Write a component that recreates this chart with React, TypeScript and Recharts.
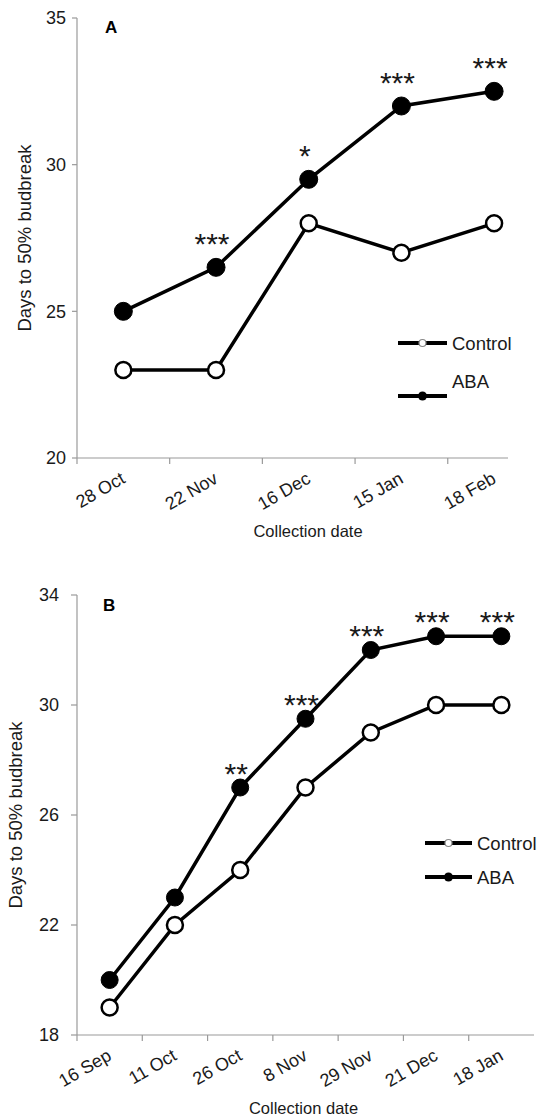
import React from 'react';
import { LineChart, Line, XAxis, YAxis, LabelList, Legend, Customized } from 'recharts';

// ---------- Panel A ----------
const datesA = ['28 Oct', '22 Nov', '16 Dec', '15 Jan', '18 Feb'];
const controlA = [23, 23, 28, 27, 28];
const abaA = [25, 26.5, 29.5, 32, 32.5];
const sigA = ['', '***', '*', '***', '***'];
const yTicksA = [20, 25, 30, 35];

// ---------- Panel B ----------
const datesB = ['16 Sep', '11 Oct', '26 Oct', '8 Nov', '29 Nov', '21 Dec', '18 Jan'];
const controlB = [19, 22, 24, 27, 29, 30, 30];
const abaB = [20, 23, 27, 29.5, 32, 32.5, 32.5];
const sigB = ['', '', '**', '***', '***', '***', '***'];
const yTicksB = [18, 22, 26, 30, 34];

const seriesNames = ['Control', 'ABA'];
const yTitle = 'Days to 50% budbreak';
const xTitle = 'Collection date';

const FONT = '"Liberation Sans", Arial, Helvetica, sans-serif';
const AXIS = '#9a9a9a';
const TEXT = '#1a1a1a';

const buildRows = (dates: string[], control: number[], aba: number[], sig: string[]) =>
  dates.map((d, i) => ({ x: i + 0.5, date: d, control: control[i], aba: aba[i], sig: sig[i] }));

const buildTicks = (dates: string[]) => dates.flatMap((_, i) => [i, i + 0.5]);

const rowsA = buildRows(datesA, controlA, abaA, sigA);
const rowsB = buildRows(datesB, controlB, abaB, sigB);

function makeXTick(labels: string[]) {
  return function XTick(props: any) {
    const { x, y, payload } = props;
    const v = payload.value as number;
    if (Number.isInteger(v)) {
      return <line x1={x} y1={y - 6} x2={x} y2={y} stroke={AXIS} strokeWidth={1.2} />;
    }
    const label = labels[Math.floor(v)];
    return (
      <text
        x={0}
        y={0}
        transform={`translate(${x + 3},${y + 18}) rotate(-30)`}
        textAnchor="end"
        fontSize={18}
        fill={TEXT}
        fontFamily={FONT}
      >
        {label}
      </text>
    );
  };
}

function makeStars(lift: number) {
  return function Stars(props: any) {
    const vb = props.viewBox || {};
    const x = vb.x ?? props.x;
    const y = vb.y ?? props.y;
    const value = props.value;
    if (!value) return null;
    return (
      <text x={x - 4} y={y - lift} textAnchor="middle" fontSize={30} fill={TEXT} fontFamily={FONT}>
        {value}
      </text>
    );
  };
}

function makeYTitle(cx: number) {
  return function YTitle(props: any) {
    const vb = props.viewBox || { x: 0, y: 0, width: 0, height: 0 };
    return (
      <text
        x={0}
        y={0}
        transform={`translate(${cx},${vb.y + vb.height / 2}) rotate(-90)`}
        textAnchor="middle"
        dominantBaseline="central"
        fontSize={18.5}
        fill={TEXT}
        fontFamily={FONT}
      >
        {yTitle}
      </text>
    );
  };
}

function makeXTitle(dx: number, dy: number) {
  return function XTitle(props: any) {
    const vb = props.viewBox || { x: 0, y: 0, width: 0, height: 0 };
    return (
      <text
        x={vb.x + vb.width / 2 + dx}
        y={vb.y + dy}
        textAnchor="middle"
        dominantBaseline="central"
        fontSize={16.5}
        fill={TEXT}
        fontFamily={FONT}
      >
        {xTitle}
      </text>
    );
  };
}

type LegendRow = { lineY: number; textY: number; filled: boolean };
function makeLegend(rows: LegendRow[], x0: number, x1: number, tx: number, w: number, h: number) {
  return function LegendContent() {
    return (
      <svg width={w} height={h} style={{ display: 'block', overflow: 'visible' }}>
        {rows.map((r, i) => (
          <g key={i}>
            <line x1={x0} y1={r.lineY} x2={x1} y2={r.lineY} stroke="#000" strokeWidth={4} />
            {r.filled ? (
              <circle cx={(x0 + x1) / 2} cy={r.lineY} r={4.5} fill="#000" />
            ) : (
              <circle cx={(x0 + x1) / 2} cy={r.lineY} r={3.5} fill="#fff" stroke="#888" strokeWidth={1.2} />
            )}
            <text x={tx} y={r.textY} dominantBaseline="central" fontSize={18.5} fill={TEXT} fontFamily={FONT}>
              {seriesNames[i]}
            </text>
          </g>
        ))}
      </svg>
    );
  };
}

function PanelLetter({ x, y, text }: { x: number; y: number; text: string }) {
  return (
    <text x={x} y={y} fontSize={17} fontWeight="bold" fill="#000" fontFamily={FONT}>
      {text}
    </text>
  );
}

export default function App() {
  return (
    <div style={{ position: 'absolute', left: 0, top: 0, width: 538, height: 1119, background: '#fff', fontFamily: FONT }}>
      {/* Panel A */}
      <LineChart
        width={538}
        height={560}
        data={rowsA}
        margin={{ top: 18, right: 30, left: 0, bottom: 0 }}
        style={{ fontFamily: FONT }}
      >
        <XAxis
          dataKey="x"
          type="number"
          domain={[0, 4.65]}
          ticks={buildTicks(datesA)}
          interval={0}
          height={102}
          tickSize={6}
          tickMargin={0}
          tickLine={false}
          axisLine={{ stroke: AXIS, strokeWidth: 1.2 }}
          tick={makeXTick(datesA)}
          label={{ value: xTitle, content: makeXTitle(15.5, 73) }}
        />
        <YAxis
          type="number"
          domain={[20, 35]}
          ticks={yTicksA}
          width={77}
          tickSize={5}
          tickMargin={6}
          axisLine={{ stroke: AXIS, strokeWidth: 1.2 }}
          tickLine={{ stroke: AXIS, strokeWidth: 1.2 }}
          tick={{ fontSize: 18, fill: TEXT, fontFamily: FONT }}
          label={{ value: yTitle, content: makeYTitle(24) }}
        />
        <Line
          name={seriesNames[0]}
          dataKey="control"
          type="linear"
          stroke="#000"
          strokeWidth={3.5}
          dot={{ r: 8, fill: '#fff', stroke: '#000', strokeWidth: 2.5 }}
          isAnimationActive={false}
        />
        <Line
          name={seriesNames[1]}
          dataKey="aba"
          type="linear"
          stroke="#000"
          strokeWidth={3.5}
          dot={{ r: 9, fill: '#000', stroke: '#000', strokeWidth: 1 }}
          isAnimationActive={false}
        >
          <LabelList dataKey="sig" content={makeStars(13)} />
        </Line>
        <Legend
          layout="horizontal"
          verticalAlign="middle"
          align="center"
          wrapperStyle={{ position: 'absolute', left: 390, top: 320, width: 148, height: 90 }}
          content={makeLegend(
            [
              { lineY: 23, textY: 23, filled: false },
              { lineY: 76, textY: 61, filled: true },
            ],
            8,
            57,
            62,
            148,
            90
          )}
        />
        <Customized component={() => <PanelLetter x={105} y={33} text="A" />} />
      </LineChart>

      {/* Panel B */}
      <LineChart
        width={538}
        height={559}
        data={rowsB}
        margin={{ top: 35, right: 4, left: 0, bottom: 0 }}
        style={{ fontFamily: FONT }}
      >
        <XAxis
          dataKey="x"
          type="number"
          domain={[0, 7]}
          ticks={buildTicks(datesB)}
          interval={0}
          height={84}
          tickSize={6}
          tickMargin={0}
          tickLine={false}
          axisLine={{ stroke: AXIS, strokeWidth: 1.2 }}
          tick={makeXTick(datesB)}
          label={{ value: xTitle, content: makeXTitle(-2, 73) }}
        />
        <YAxis
          type="number"
          domain={[18, 34]}
          ticks={yTicksB}
          width={77}
          tickSize={6}
          tickMargin={12}
          axisLine={{ stroke: AXIS, strokeWidth: 1.2 }}
          tickLine={{ stroke: AXIS, strokeWidth: 1.2 }}
          tick={{ fontSize: 18, fill: TEXT, fontFamily: FONT }}
          label={{ value: yTitle, content: makeYTitle(15) }}
        />
        <Line
          name={seriesNames[0]}
          dataKey="control"
          type="linear"
          stroke="#000"
          strokeWidth={3.5}
          dot={{ r: 8, fill: '#fff', stroke: '#000', strokeWidth: 2.5 }}
          isAnimationActive={false}
        />
        <Line
          name={seriesNames[1]}
          dataKey="aba"
          type="linear"
          stroke="#000"
          strokeWidth={3.5}
          dot={{ r: 8.5, fill: '#000', stroke: '#000', strokeWidth: 1 }}
          isAnimationActive={false}
        >
          <LabelList dataKey="sig" content={makeStars(4)} />
        </Line>
        <Legend
          layout="horizontal"
          verticalAlign="middle"
          align="center"
          wrapperStyle={{ position: 'absolute', left: 420, top: 265, width: 118, height: 70 }}
          content={makeLegend(
            [
              { lineY: 18, textY: 18, filled: false },
              { lineY: 52, textY: 52, filled: true },
            ],
            5,
            52,
            57,
            118,
            70
          )}
        />
        <Customized component={() => <PanelLetter x={103} y={51} text="B" />} />
      </LineChart>
    </div>
  );
}
